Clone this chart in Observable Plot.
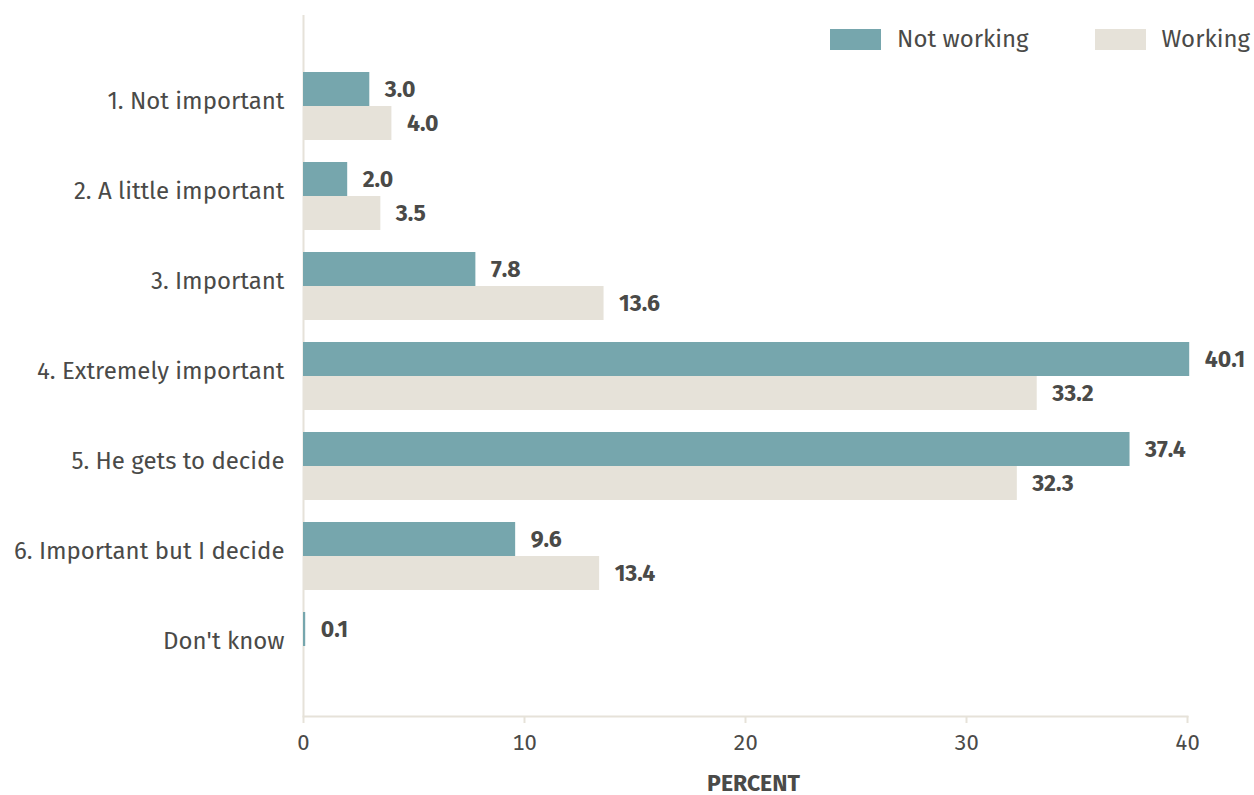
<!DOCTYPE html>
<html>
<head>
<meta charset="utf-8">
<script src="https://cdn.jsdelivr.net/npm/d3@7"></script>
<script src="https://cdn.jsdelivr.net/npm/@observablehq/plot@0.6"></script>
<style>
  html, body { margin: 0; padding: 0; background: #fff; }
  #wrap { position: relative; width: 1254px; height: 795px; font-family: "Fira Sans", "Noto Sans", "Open Sans", sans-serif; }
  #legend { position: absolute; top: 25px; left: 830px; display: flex; align-items: center; color: #4a4a48; font-size: 24px; }
  .item { display: flex; align-items: center; }
  .sw { width: 51px; height: 21px; margin-right: 16px; }
</style>
</head>
<body>
<div id="wrap"><div id="legend"></div></div>
<script>
const categories = ["1. Not important", "2. A little important", "3. Important", "4. Extremely important", "5. He gets to decide", "6. Important but I decide", "Don't know"];
const series = ["Not working", "Working"];
const notWorking = [3.0, 2.0, 7.8, 40.1, 37.4, 9.6, 0.1];
const working = [4.0, 3.5, 13.6, 33.2, 32.3, 13.4, null];
const colors = ["#76a6ad", "#e6e2d9"];
const xTicks = [0, 10, 20, 30, 40];

const rows = [];
categories.forEach((c, i) => {
  rows.push({category: c, series: series[0], value: notWorking[i]});
  rows.push({category: c, series: series[1], value: working[i]});
});
const nw = rows.filter(d => d.series === series[0] && d.value != null);
const wk = rows.filter(d => d.series === series[1] && d.value != null);

const beige = "#e6e2d9";
const textColor = "#4a4a48";
const half = 34;

const chart = Plot.plot({
  width: 1254,
  height: 795,
  marginTop: 15,
  marginBottom: 79,
  marginLeft: 303,
  marginRight: 67,
  style: {fontFamily: '"Fira Sans", "Noto Sans", "Open Sans", sans-serif', fontSize: "24px", color: textColor, background: "#fff"},
  x: {domain: [0, 40], label: null},
  y: {domain: categories, range: [61, 692], paddingInner: 0.244, paddingOuter: 0.122, label: null},
  marks: [
    Plot.ruleX([0], {stroke: beige, strokeWidth: 2}),
    Plot.frame({anchor: "bottom", stroke: beige, strokeWidth: 2}),
    Plot.barX(nw, {y: "category", x: "value", fill: colors[0], insetBottom: half}),
    Plot.barX(wk, {y: "category", x: "value", fill: colors[1], insetTop: half}),
    Plot.text(nw, {y: "category", x: "value", text: d => d.value.toFixed(1), dx: 15, dy: -half / 2, textAnchor: "start", fontWeight: "bold", fontSize: 23, fill: textColor}),
    Plot.text(wk, {y: "category", x: "value", text: d => d.value.toFixed(1), dx: 15, dy: half / 2, textAnchor: "start", fontWeight: "bold", fontSize: 23, fill: textColor}),
    Plot.axisY({tickSize: 0, tickPadding: 19, label: null, fontSize: 24, dy: -5, fill: textColor}),
    Plot.axisX({ticks: xTicks, tickSize: 7, stroke: beige, strokeWidth: 2, tickPadding: 11, fontSize: 22, fill: textColor, label: "PERCENT", labelAnchor: "center", labelOffset: 74})
  ]
});

d3.select(chart).selectAll('[aria-label="x-axis label"] text')
  .text("PERCENT").attr("font-weight", "bold").attr("font-size", 23).attr("fill", textColor).attr("dx", 8);
document.getElementById("wrap").prepend(chart);

const legend = document.getElementById("legend");
series.forEach((s, i) => {
  const item = document.createElement("div");
  item.className = "item";
  if (i > 0) item.style.marginLeft = "66px";
  const sw = document.createElement("div");
  sw.className = "sw";
  sw.style.background = colors[i];
  const t = document.createElement("span");
  t.textContent = s;
  item.append(sw, t);
  legend.append(item);
});
</script>
</body>
</html>
